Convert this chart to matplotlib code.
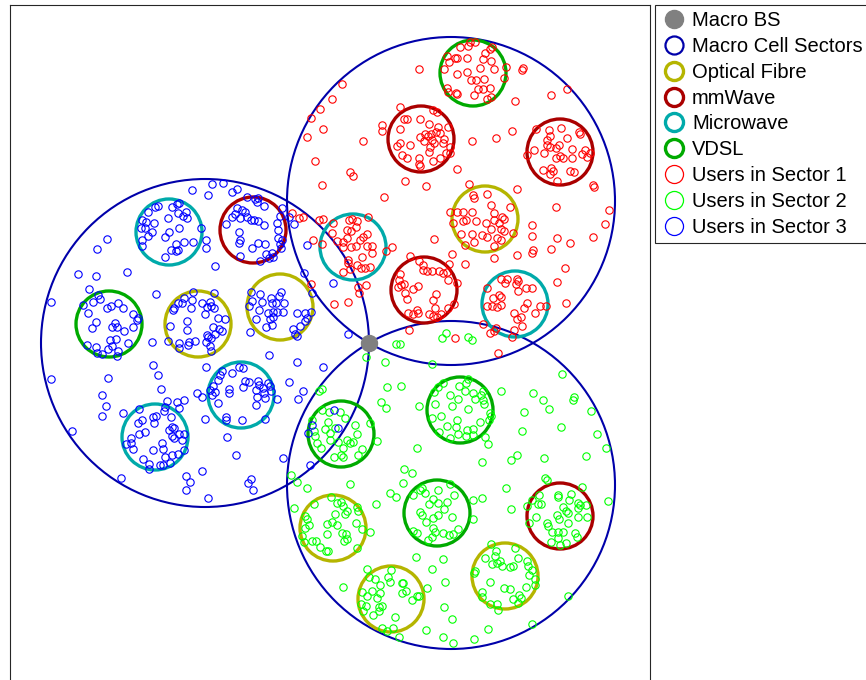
'''
Small-cell deployment map: three macro sectors around one macro BS,
small cells by backhaul type, and users of each sector.
'''
import numpy as np
import matplotlib
matplotlib.use('Agg')
import matplotlib.pyplot as plt
from matplotlib.patches import Circle
from matplotlib.lines import Line2D

plt.rcParams.update({'font.family': ['Liberation Sans', 'DejaVu Sans']})

# geometry, metres, macro BS at origin
BS = (0, 0)
R_SECTOR = 164
R_SMALL = 33
sector_centres = [(82, 142), (82, -142), (-164, 0)]

# small cells: (x, y) per backhaul type
optical_cells = [(116, 124), (-171, 19), (-89, 36), (-36, -185), (22, -256), (136, -233)]
mmwave_cells = [(52, 204), (191, 191), (55, 53), (-116, 113), (191, -173)]
microwave_cells = [(-16, 96), (146, 39), (-200, 111), (-128, -52), (-214, -94)]
vdsl_cells = [(104, 270), (-260, 19), (-28, -91), (91, -67), (68, -170)]

users_s1 = np.array([
    (50, 274), (-27, 259), (-37, 244), (-49, 234), (-58, 225), (-46, 214), (-62, 206), (-54, 182),
    (-6, 202), (31, 236), (13, 218), (13, 212), (-19, 171), (-16, 167), (-47, 158), (36, 162),
    (57, 157), (88, 174), (103, 202), (100, 159),
    (64, 233), (68, 231), (35, 224), (38, 224), (51, 224), (60, 219), (31, 214), (79, 216),
    (69, 216), (67, 211), (62, 209), (59, 207), (56, 209), (71, 210), (51, 206), (55, 202),
    (63, 203), (65, 200), (74, 200), (61, 196), (60, 191), (41, 198), (28, 197), (31, 200),
    (33, 188), (38, 185), (50, 185), (50, 179), (51, 177), (64, 182), (71, 185), (77, 190),
    (81, 196), (81, 190), (75, 204),
    (78, 287), (80, 281), (86, 285), (88, 285), (91, 296), (75, 274), (88, 269), (78, 255),
    (79, 251), (87, 250), (88, 249), (106, 301), (101, 301), (99, 297), (121, 294), (116, 290),
    (123, 296), (114, 284), (122, 282), (98, 285), (111, 275), (125, 274), (137, 276), (135, 265),
    (98, 271), (102, 263), (107, 263), (115, 264), (109, 254), (114, 254), (121, 255), (105, 248),
    (118, 244), (122, 246),
    (154, 275), (153, 273), (198, 254), (182, 248), (146, 242), (143, 212), (127, 205),
    (167, 214), (180, 213), (192, 215), (181, 207), (178, 203), (178, 198), (190, 198), (198, 205),
    (210, 211), (211, 209), (165, 193), (175, 190), (181, 196), (187, 195), (191, 187), (187, 185),
    (194, 185), (203, 194), (203, 185), (213, 189), (216, 193), (218, 186), (221, 190), (158, 188),
    (174, 173), (182, 175), (184, 172), (181, 169), (201, 172), (205, 171), (188, 162), (224, 158),
    (15, 146), (-66, 126), (-70, 125), (-77, 130), (-50, 123), (-46, 124), (-37, 110), (-36, 120),
    (-56, 103), (-47, 99), (-1, 126),
    (-20, 123), (-17, 124), (-12, 122), (-22, 113), (-18, 112), (-13, 116), (-2, 109), (-6, 106),
    (-9, 103), (-22, 105), (-32, 102), (-26, 101), (-26, 96), (-18, 96), (-13, 97), (-2, 97),
    (3, 97), (3, 90), (-7, 86), (-21, 83), (-21, 80), (-12, 78), (-8, 75), (-4, 75),
    (1, 76), (-19, 74), (-26, 71), (17, 92), (23, 96),
    (-11, 56), (-10, 50), (-3, 58), (-58, 59), (-35, 39), (-21, 41), (65, 104), (41, 87),
    (50, 82), (54, 78), (54, 73), (31, 69), (30, 63), (32, 58), (29, 56), (35, 59),
    (36, 50), (38, 44), (44, 54), (49, 57), (58, 72), (63, 72), (70, 72), (74, 70),
    (78, 71), (80, 79), (83, 89), (67, 49), (64, 43), (79, 63), (88, 60), (39, 30),
    (44, 29), (49, 30), (48, 33), (60, 29), (64, 27), (68, 26), (72, 29), (66, 35),
    (79, 35), (85, 39), (40, 13), (96, 79),
    (81, 131), (88, 131), (94, 131), (103, 131), (84, 120), (94, 122), (97, 123), (107, 122),
    (104, 148), (105, 145), (92, 109), (103, 109), (105, 101), (96, 98),
    (148, 154), (225, 156), (187, 136), (240, 133), (236, 119), (163, 118), (163, 107), (188, 105),
    (201, 100), (182, 94), (224, 106), (164, 93), (163, 90), (148, 88), (125, 85),
    (118, 149), (122, 138), (141, 136), (125, 130), (133, 126), (135, 124), (125, 123), (117, 120),
    (130, 120), (122, 114), (132, 114), (135, 112), (144, 110), (113, 108), (118, 106), (128, 105),
    (132, 103), (125, 97),
    (132, 64), (138, 64), (136, 60), (148, 64), (147, 59), (149, 62), (118, 55), (157, 55),
    (163, 55), (149, 52), (130, 48), (132, 46), (124, 45), (118, 37), (123, 37), (128, 36),
    (132, 38), (158, 40), (155, 35), (171, 37), (177, 37), (145, 30), (148, 24), (152, 26),
    (166, 30), (153, 17), (127, 15), (125, 12), (121, 10), (114, 19), (145, 13), (143, 6),
    (86, 5), (196, 75), (188, 61), (197, 40), (129, -10),
])

users_s2 = np.array([
    (27, -1), (31, -1), (73, 5), (77, 10), (99, 6), (103, 3), (-3, -14), (16, -19),
    (63, -21), (18, -44), (32, -43), (12, -59), (17, -65), (50, -63), (8, -98), (48, -105),
    (35, -126), (43, -130), (34, -140), (-50, -48), (-47, -46),
    (-47, -67), (-40, -69), (-29, -69), (-24, -75), (-41, -79), (-44, -86), (-39, -90), (-34, -85),
    (-14, -82), (-12, -91), (-55, -88), (-54, -93), (-52, -100), (-48, -105), (-39, -97), (-31, -99),
    (-22, -97), (-19, -100), (-16, -99), (-7, -106), (-26, -105), (-28, -112), (-35, -114), (-26, -114),
    (-11, -112), (1, -80), (-57, -77),
    (-78, -132), (-72, -139), (-62, -145), (-19, -141),
    (74, -40), (69, -44), (65, -49), (81, -52), (89, -56), (66, -61), (83, -63), (63, -75),
    (72, -73), (88, -77), (78, -83), (87, -84), (70, -89), (81, -95), (89, -91), (99, -36),
    (97, -40), (90, -43), (96, -48), (104, -50), (114, -48), (112, -52), (106, -56), (114, -57),
    (115, -61), (99, -66), (121, -70), (122, -73), (120, -77), (111, -79), (98, -87), (104, -86),
    (97, -93), (104, -92), (116, -94), (119, -101),
    (193, -31), (132, -48), (164, -50), (174, -57), (205, -54), (204, -57), (155, -69), (180, -66),
    (222, -68), (153, -88), (192, -84), (228, -91), (237, -105), (148, -112), (142, -117), (113, -119),
    (175, -115), (217, -113), (176, -135), (213, -144), (137, -145),
    (-75, -165), (7, -161), (21, -150), (27, -154),
    (-55, -161), (-38, -154), (-32, -160), (-28, -159), (-26, -163), (-22, -168), (-12, -164), (-11, -168),
    (-34, -171), (-24, -171), (-64, -173), (-62, -176), (-60, -182), (-64, -185), (-37, -179), (-42, -181),
    (-32, -182), (-13, -180), (-7, -186), (1, -189), (-42, -191), (-27, -190), (-23, -191), (-25, -198),
    (-22, -196), (-67, -193), (-65, -199), (-57, -198), (-53, -198), (-49, -204), (-43, -208), (-41, -208),
    (-12, -205),
    (-2, -226), (0, -234), (6, -236), (11, -242), (22, -227), (19, -234), (21, -239), (-7, -249),
    (-2, -253), (3, -248), (11, -250), (8, -255), (-8, -261), (-3, -263), (10, -264), (13, -263),
    (-6, -268), (4, -272), (10, -268), (26, -274), (33, -240), (34, -240), (33, -250), (37, -248),
    (43, -257), (48, -253), (50, -253), (58, -245), (13, -285), (18, -288), (24, -285), (30, -294),
    (-26, -244), (47, -214), (74, -216), (63, -226), (76, -239), (75, -264), (83, -276), (57, -287),
    (74, -294), (84, -300),
    (44, -152), (51, -147), (56, -150), (53, -145), (69, -147), (81, -141), (85, -152), (64, -156),
    (60, -161), (69, -160), (78, -159), (75, -166), (51, -169), (53, -172), (69, -172), (83, -174),
    (57, -179), (64, -175), (44, -188), (48, -190), (64, -185), (66, -189), (74, -190), (80, -192),
    (84, -191), (89, -186), (59, -197), (63, -194),
    (104, -157), (113, -155), (142, -166), (104, -176), (239, -158), (199, -253), (163, -281), (119, -286),
    (105, -296),
    (163, -157), (158, -163), (170, -152), (169, -161), (172, -161), (167, -174), (160, -180), (189, -152),
    (189, -154), (202, -151), (200, -157), (194, -164), (197, -168), (199, -170), (209, -160), (211, -162),
    (217, -162), (209, -165), (218, -174), (209, -174), (188, -172), (190, -176), (178, -180), (179, -183),
    (183, -189), (189, -189), (194, -189), (199, -180), (206, -190), (208, -194), (182, -199), (189, -195),
    (191, -202), (197, -200), (178, -137),
    (122, -201), (146, -205), (127, -208), (116, -215), (126, -213), (131, -218), (123, -221), (128, -220),
    (133, -223), (149, -215), (158, -218), (159, -223), (163, -227), (160, -232), (166, -236), (166, -242),
    (141, -224), (144, -223), (106, -228), (105, -230), (121, -239), (135, -245), (141, -246), (157, -244),
    (113, -249), (113, -254), (121, -261), (128, -261), (129, -267), (144, -256), (150, -252), (152, -255),
    (149, -260),
])

users_s3 = np.array([
    (-177, 153), (-161, 148), (-262, 104), (-272, 94), (-291, 69), (-273, 67), (-242, 71), (-280, 54),
    (-318, 41), (-213, 49), (-163, 103), (-163, 95), (-168, 115),
    (-211, 137), (-214, 136), (-221, 131), (-197, 136), (-192, 139), (-190, 140), (-191, 130), (-186, 127),
    (-182, 125), (-183, 131), (-227, 123), (-223, 121), (-215, 120), (-201, 125), (-228, 115), (-224, 115),
    (-217, 111), (-221, 107), (-190, 115), (-200, 111), (-204, 106), (-227, 103), (-227, 97), (-185, 101),
    (-176, 101), (-193, 99), (-198, 93), (-193, 92), (-191, 93), (-204, 86),
    (-271, 48), (-276, 41), (-269, 44), (-286, 38), (-281, 30), (-262, 35), (-258, 37), (-251, 40),
    (-246, 35), (-273, 21), (-277, 15), (-254, 20), (-257, 16), (-252, 16), (-245, 12), (-236, 29),
    (-232, 23), (-231, 25), (-236, 16), (-259, 3), (-253, 4), (-241, 0), (-282, -2), (-273, -4),
    (-267, -11), (-272, -10), (-261, -6), (-257, -3), (-251, -8), (-252, -13),
    (-176, 51), (-185, 45), (-191, 40), (-177, 43), (-187, 40), (-195, 35), (-196, 33), (-167, 40),
    (-164, 29), (-159, 41), (-178, 35), (-182, 22), (-182, 13), (-199, 17), (-201, 2), (-190, 0),
    (-180, 1), (-174, 2), (-217, 1), (-161, 6), (-190, -5), (-181, -2), (-162, 36), (-158, 37),
    (-155, 50), (-155, 35), (-151, 25), (-144, 24), (-156, 16), (-150, 14), (-147, 12), (-162, 8),
    (-158, 5), (-154, 9), (-163, 1), (-159, -3), (-158, -8),
    (-216, -22), (-211, -32), (-261, -35), (-318, -36), (-208, -46), (-267, -52), (-263, -63), (-267, -73),
    (-246, -70), (-172, -50), (-167, -54), (-163, -24), (-202, -58), (-192, -59), (-190, -65), (-185, -57),
    (-164, -76), (-297, -88), (-248, -135), (-167, -128), (-183, -133), (-179, -139), (-183, -147), (-161, -155),
    (-230, -66), (-205, -68), (-204, -64), (-227, -77), (-231, -80), (-216, -74), (-213, -73), (-215, -80),
    (-198, -74), (-197, -84), (-200, -87), (-195, -85), (-197, -93), (-195, -95), (-190, -91), (-187, -97),
    (-185, -91), (-230, -91), (-224, -89), (-238, -95), (-238, -100), (-243, -101), (-236, -106), (-207, -100),
    (-206, -106), (-216, -107), (-185, -107), (-191, -111), (-197, -112), (-204, -114), (-199, -120), (-226, -116),
    (-220, -121), (-220, -126), (-209, -122), (-206, -122),
    (-157, 159), (-146, 160), (-137, 151), (-132, 154), (-154, 77),
    (-122, 146), (-114, 144), (-111, 145), (-105, 137), (-112, 141), (-132, 135), (-127, 133), (-124, 131),
    (-137, 126), (-134, 129), (-129, 125), (-122, 126), (-118, 123), (-115, 123), (-111, 122), (-143, 119),
    (-105, 118), (-87, 135), (-89, 127), (-92, 120), (-91, 113), (-130, 111), (-129, 103), (-130, 100),
    (-117, 95), (-111, 100), (-104, 99), (-91, 105), (-89, 99), (-88, 95), (-103, 89), (-97, 90),
    (-96, 86), (-100, 85), (-109, 82), (-129, 87),
    (-80, 126), (-75, 119), (-62, 98), (-87, 103), (-65, 70), (-36, 60), (-57, 50), (-21, 9),
    (-85, 40), (-86, 31),
    (-118, 51), (-109, 49), (-98, 45), (-90, 47), (-88, 51), (-117, 42), (-107, 41), (-97, 40),
    (-93, 40), (-120, 37), (-110, 33), (-101, 30), (-96, 31), (-92, 31), (-72, 30), (-64, 30),
    (-58, 31), (-113, 24), (-99, 24), (-96, 26), (-97, 18), (-103, 16), (-62, 25), (-64, 22),
    (-69, 17), (-76, 14), (-74, 9), (-72, 7), (-119, 11),
    (-100, -12), (-72, -19), (-46, -24), (-80, -39), (-66, -48), (-71, -56),
    (-130, -24), (-126, -25), (-137, -30), (-147, -28), (-149, -32), (-151, -37), (-156, -43), (-159, -47),
    (-157, -52), (-154, -49), (-151, -60), (-140, -46), (-140, -50), (-124, -38), (-120, -39), (-126, -44),
    (-111, -38), (-110, -42), (-113, -47), (-106, -45), (-101, -40), (-99, -43), (-98, -48), (-112, -54),
    (-105, -50), (-104, -55), (-113, -62), (-92, -56), (-143, -74), (-143, -77), (-127, -77), (-104, -76),
    (-142, -94), (-133, -112), (-86, -115), (-59, -122), (-118, -136), (-121, -140), (-116, -147),
    (-35, -67), (-57, -82), (-61, -90), (-31, -85),
])

SECTOR_COL = '#0000aa'
CELL_COLS = {'Optical Fibre': '#b5b500', 'mmWave': '#aa0000',
             'Microwave': '#00aaaa', 'VDSL': '#00aa00'}
USER_COLS = ['#ff0000', '#00ff00', '#0000ff']

fig = plt.figure(figsize=(8.66, 6.8), dpi=100)
ax = fig.add_axes([10 / 866, -5 / 680, 640 / 866, 1.0])
ax.set_xlim(-359, 281)
ax.set_ylim(-342, 338)
ax.set_xticks([])
ax.set_yticks([])
for sp in ax.spines.values():
    sp.set_color('#262626')
    sp.set_linewidth(0.8)

for c in sector_centres:
    ax.add_patch(Circle(c, R_SECTOR, fill=False, ec=SECTOR_COL, lw=1.5, zorder=2))

for name, cells in [('Optical Fibre', optical_cells), ('mmWave', mmwave_cells),
                    ('Microwave', microwave_cells), ('VDSL', vdsl_cells)]:
    for c in cells:
        ax.add_patch(Circle(c, R_SMALL, fill=False, ec=CELL_COLS[name], lw=2.4, zorder=3))

for users, col in zip([users_s1, users_s2, users_s3], USER_COLS):
    ax.plot(users[:, 0], users[:, 1], 'o', ms=5.3, mfc='none', mec=col, mew=0.8, zorder=4)

ax.plot(BS[0], BS[1], 'o', ms=11.5, color='#808080', zorder=5)

handles = [Line2D([], [], ls='none', marker='o', ms=13, color='#808080')]
handles.append(Line2D([], [], ls='none', marker='o', ms=13, mfc='none', mec=SECTOR_COL, mew=1.6))
for name in ['Optical Fibre', 'mmWave', 'Microwave', 'VDSL']:
    handles.append(Line2D([], [], ls='none', marker='o', ms=13, mfc='none',
                          mec=CELL_COLS[name], mew=2.4))
for col in USER_COLS:
    handles.append(Line2D([], [], ls='none', marker='o', ms=13, mfc='none', mec=col, mew=0.9))
labels = ['Macro BS', 'Macro Cell Sectors', 'Optical Fibre', 'mmWave', 'Microwave', 'VDSL',
          'Users in Sector 1', 'Users in Sector 2', 'Users in Sector 3']

leg = fig.legend(handles, labels, loc='upper left', bbox_to_anchor=(655 / 866, 1 - 5 / 680),
                 borderaxespad=0, fontsize=14.5, handlelength=1.29, handletextpad=0.25,
                 labelspacing=0.34, borderpad=0.3, fancybox=False, framealpha=1)
leg.get_frame().set_edgecolor('#262626')
leg.get_frame().set_linewidth(0.8)

fig.savefig('out.png', dpi=100)
